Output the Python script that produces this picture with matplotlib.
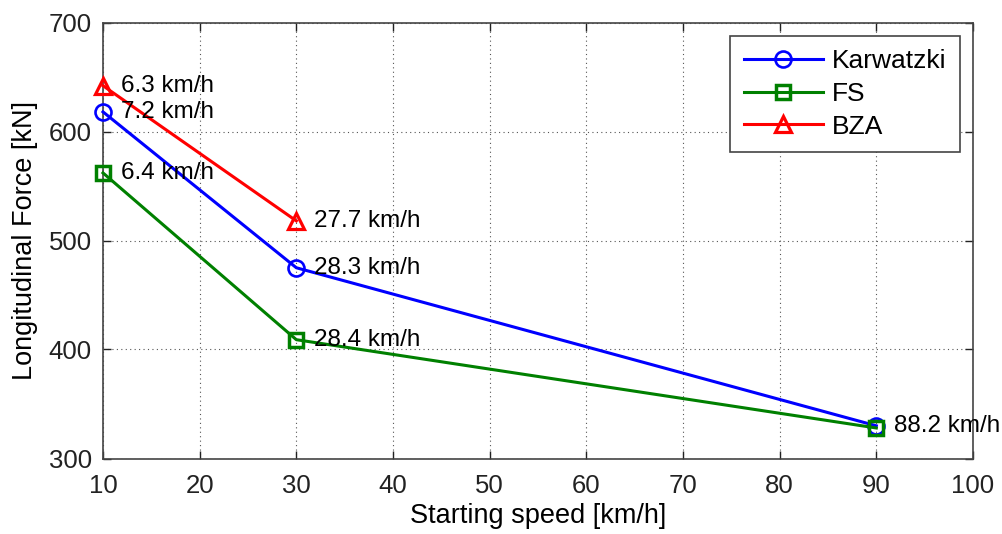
import matplotlib
matplotlib.use("Agg")
import matplotlib.pyplot as plt

plt.rcParams['font.family'] = ['Liberation Sans', 'DejaVu Sans']

speeds = [10, 30, 90]
karwatzki = [618, 475, 330]
fs = [562, 409, 328]
bza_speeds = [10, 30]
bza = [642, 518]

karwatzki_labels = ["7.2 km/h", "28.3 km/h", "88.2 km/h"]
fs_labels = ["6.4 km/h", "28.4 km/h", ""]
bza_labels = ["6.3 km/h", "27.7 km/h"]

xticks = [10, 20, 30, 40, 50, 60, 70, 80, 90, 100]
yticks = [300, 400, 500, 600, 700]

blue = (0, 0, 1)
green = (0, 0.5, 0)
red = (1, 0, 0)

fig = plt.figure(figsize=(10.03, 5.34), dpi=100)
ax = fig.add_axes([103 / 1003, 1 - 458.5 / 534, 870 / 1003, 436 / 534])

lw = 2.2
mew = 1.9
ax.plot(speeds, karwatzki, color=blue, lw=lw, marker='o', ms=11.5, mfc='none', mew=mew, label='Karwatzki', clip_on=False, zorder=3)
ax.plot(speeds, fs, color=green, lw=lw, marker='s', ms=10.5, mfc='none', mew=mew + 0.6, label='FS', clip_on=False, zorder=3)
ax.plot(bza_speeds, bza, color=red, lw=lw, marker='^', ms=12, mfc='none', mew=mew + 0.4, label='BZA', clip_on=False, zorder=3)

fsz = 17.5
for xs, ys, labs in [(bza_speeds, bza, bza_labels), (speeds, karwatzki, karwatzki_labels), (speeds, fs, fs_labels)]:
    for x, y, t in zip(xs, ys, labs):
        if t:
            ax.annotate(t, (x, y), xytext=(13, 0), textcoords='offset points',
                        va='center', ha='left', fontsize=fsz, color='black', zorder=4)

ax.set_xlim(10, 100)
ax.set_ylim(300, 700)
ax.set_xticks(xticks)
ax.set_yticks(yticks)
ax.tick_params(direction='in', length=6, width=1, labelsize=18.5, colors='#222222')
ax.tick_params(axis='x', pad=11)
ax.tick_params(axis='y', pad=8)
ax.tick_params(top=True, right=True)
ax.grid(True, linestyle=(0, (1, 3)), color='#555555', lw=0.8)
for s in ax.spines.values():
    s.set_color('#444444')
    s.set_linewidth(1.2)

ax.set_xlabel('Starting speed [km/h]', fontsize=19.5, labelpad=4)
ax.set_ylabel('Longitudinal Force [kN]', fontsize=19.5, labelpad=8)

leg = ax.legend(loc='upper right', fontsize=19, frameon=True, fancybox=False,
                edgecolor='#444444', framealpha=1, handlelength=3.0,
                borderpad=0.5, labelspacing=0.33, handletextpad=0.35,
                borderaxespad=0, bbox_to_anchor=(0.9846, 0.969))
leg.get_frame().set_linewidth(1.2)

fig.savefig('out.png', dpi=100)
